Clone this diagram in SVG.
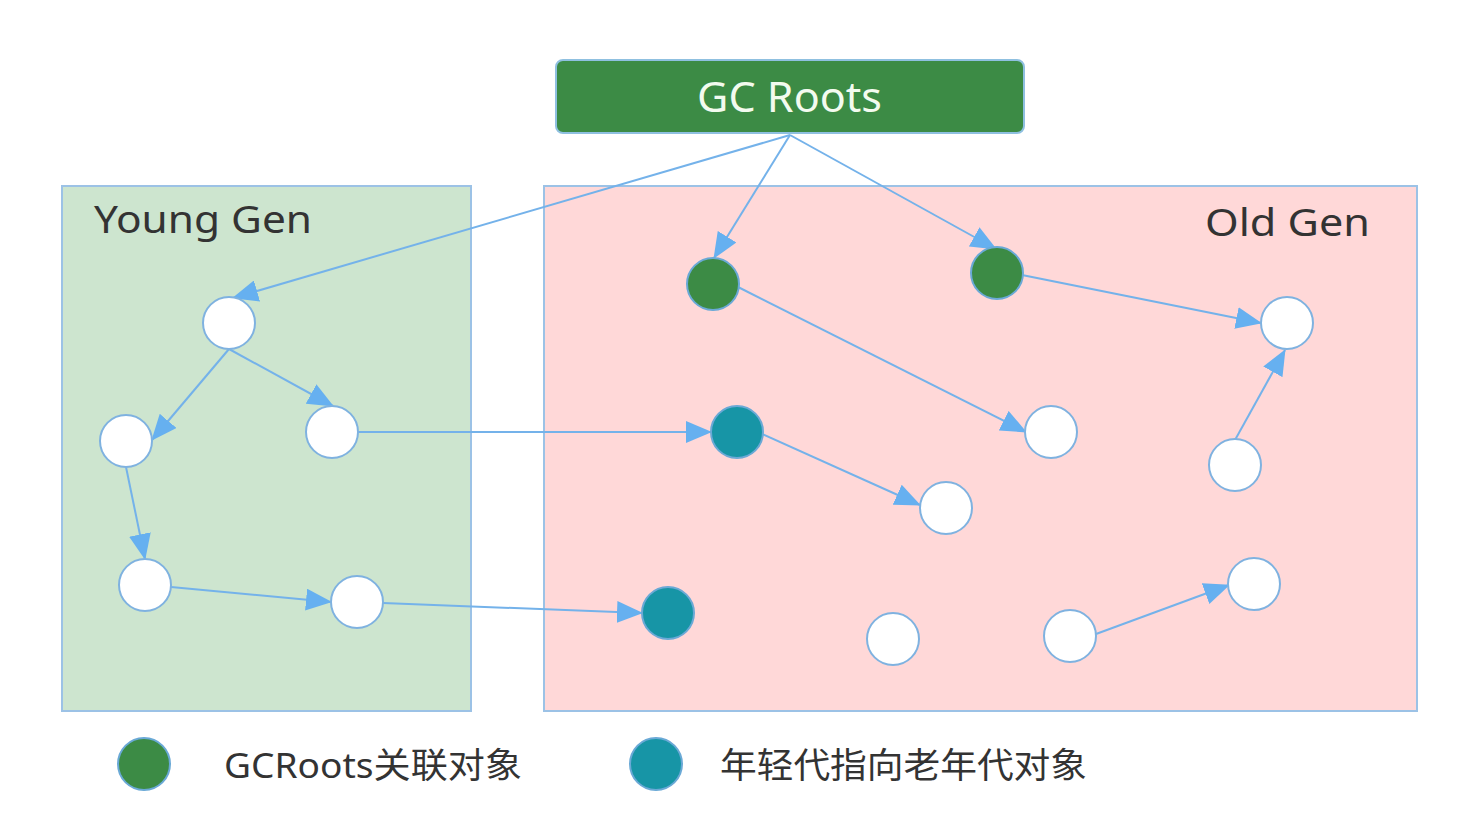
<svg xmlns="http://www.w3.org/2000/svg" width="1480" height="834" viewBox="0 0 1480 834">
<style>
.obj{fill:#ffffff;stroke:#7fb2e0;stroke-width:2}
.gc{fill:#3c8b45;stroke:#6aa9d6;stroke-width:2}
.yo{fill:#1795a6;stroke:#6aa9d6;stroke-width:2}
.edge{stroke:#74b2ea;stroke-width:2;fill:none;marker-end:url(#ah)}
.lbl{font-family:"Noto Sans","Open Sans","Noto Sans CJK SC",sans-serif;fill:#333}
</style>
<defs>
<marker id="ah" markerUnits="userSpaceOnUse" markerWidth="26" markerHeight="22" viewBox="0 0 26 22" refX="25" refY="11" orient="auto">
<path d="M0,0 L26,11 L0,22 Z" fill="#66b0f0"/>
</marker>
</defs>
<rect width="1480" height="834" fill="#ffffff"/>
<g id="young-gen">
<rect x="62" y="186" width="409" height="525" fill="#cde5cf" stroke="#9cc2e6" stroke-width="2"/>
<text class="lbl" x="94" y="233" font-size="39" textLength="218" lengthAdjust="spacingAndGlyphs">Young Gen</text>
</g>
<g id="old-gen">
<rect x="544" y="186" width="873" height="525" fill="#ffd8d8" stroke="#9cc2e6" stroke-width="2"/>
<text class="lbl" x="1205" y="236" font-size="39" textLength="165" lengthAdjust="spacingAndGlyphs">Old Gen</text>
</g>
<g id="gc-roots">
<rect x="556" y="60" width="468" height="73" rx="7" fill="#3c8b45" stroke="#8fc0e0" stroke-width="2"/>
<text x="697" y="112" font-size="41" textLength="185" lengthAdjust="spacingAndGlyphs" font-family="Noto Sans,Open Sans,sans-serif" fill="#f3fbef">GC Roots</text>
</g>
<g id="connectors">
<line class="edge" x1="790" y1="135" x2="233" y2="298"/>
<line class="edge" x1="790" y1="135" x2="714" y2="258"/>
<line class="edge" x1="790" y1="135" x2="996" y2="249"/>
<line class="edge" x1="229" y1="349" x2="152" y2="440"/>
<line class="edge" x1="229" y1="349" x2="333" y2="406"/>
<line class="edge" x1="126" y1="467" x2="145" y2="559"/>
<line class="edge" x1="171" y1="587" x2="331" y2="602"/>
<line class="edge" x1="358" y1="432" x2="711" y2="432"/>
<line class="edge" x1="383" y1="603" x2="642" y2="613"/>
<line class="edge" x1="738" y1="287" x2="1026" y2="432"/>
<line class="edge" x1="1022" y1="275" x2="1261" y2="323"/>
<line class="edge" x1="762" y1="434" x2="920" y2="505"/>
<line class="edge" x1="1235" y1="440" x2="1285" y2="350"/>
<line class="edge" x1="1096" y1="634" x2="1229" y2="585"/>
</g>
<g id="y1"><circle class="obj" cx="229" cy="323" r="26"/></g>
<g id="y2"><circle class="obj" cx="126" cy="441" r="26"/></g>
<g id="y3"><circle class="obj" cx="332" cy="432" r="26"/></g>
<g id="y4"><circle class="obj" cx="145" cy="585" r="26"/></g>
<g id="y5"><circle class="obj" cx="357" cy="602" r="26"/></g>
<g id="g1"><circle class="gc" cx="713" cy="284" r="26"/></g>
<g id="g2"><circle class="gc" cx="997" cy="273" r="26"/></g>
<g id="o1"><circle class="obj" cx="1287" cy="323" r="26"/></g>
<g id="t1"><circle class="yo" cx="737" cy="432" r="26"/></g>
<g id="o2"><circle class="obj" cx="1051" cy="432" r="26"/></g>
<g id="o3"><circle class="obj" cx="946" cy="508" r="26"/></g>
<g id="o4"><circle class="obj" cx="1235" cy="465" r="26"/></g>
<g id="t2"><circle class="yo" cx="668" cy="613" r="26"/></g>
<g id="o5"><circle class="obj" cx="893" cy="639" r="26"/></g>
<g id="o6"><circle class="obj" cx="1070" cy="636" r="26"/></g>
<g id="o7"><circle class="obj" cx="1254" cy="584" r="26"/></g>
<g id="legend-gc">
<circle class="gc" cx="144" cy="764" r="26"/>
<text class="lbl" x="224" y="778" font-size="35" fill="#444" textLength="298" lengthAdjust="spacingAndGlyphs">GCRoots关联对象</text>
</g>
<g id="legend-young">
<circle class="yo" cx="656" cy="764" r="26"/>
<text class="lbl" x="720" y="778" font-size="35" fill="#444" textLength="367" lengthAdjust="spacingAndGlyphs">年轻代指向老年代对象</text>
</g>
</svg>
